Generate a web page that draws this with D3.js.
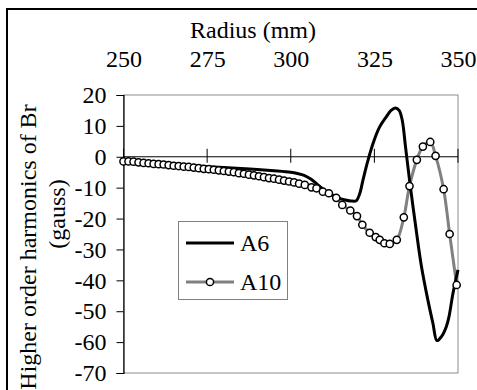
<!DOCTYPE html>
<html>
<head>
<meta charset="utf-8">
<script src="https://cdn.jsdelivr.net/npm/d3@7"></script>
<style>
  html, body { margin: 0; padding: 0; background: #fff; }
  svg { display: block; }
  text { font-family: "Liberation Serif", "Times New Roman", serif; fill: #000; }
</style>
</head>
<body>
<svg id="chart" width="477" height="390"></svg>
<script>
// ---- data ----
const xTicks = [250, 275, 300, 325, 350];
const yTicks = [20, 10, 0, -10, -20, -30, -40, -50, -60, -70];

const a6Radius = [250, 255, 260, 265, 270, 275, 280, 285, 290, 295, 300, 302, 304, 306, 308, 310, 312, 314, 316, 318, 319.6, 320.6, 321.6, 323, 324.5, 326.5, 328.6, 330, 331.3, 332.4, 333.3, 334.3, 335.5, 337.5, 339, 341, 342.5, 343.7, 345, 346.5, 347.3, 348.5, 350];
const a6Values = [-1.3, -1.7, -2.1, -2.5, -2.9, -3.2, -3.5, -3.8, -4.1, -4.5, -5.0, -5.4, -6.0, -7.2, -9.0, -10.8, -12.2, -13.2, -13.9, -14.3, -14.2, -12, -7.5, -1.5, 4, 9.5, 13, 15, 15.8, 15, 12, 3.3, -7.5, -23.7, -35, -46.4, -53.9, -59.5, -58.3, -55, -51.8, -44.2, -36.6];

const a10Radius = [250, 251.5, 253, 254.5, 256, 257.5, 259, 260.5, 262, 263.5, 265, 266.5, 268, 269.5, 271, 272.5, 274, 275.5, 277, 278.5, 280, 281.5, 283, 284.5, 286, 287.5, 289, 290.5, 292, 293.5, 295, 296.5, 298, 299.5, 301, 302.5, 304.2, 306.2, 307.7, 309.6, 311.4, 313.6, 315.4, 317.8, 319.8, 321.4, 323.6, 325.4, 326.6, 328, 329.6, 331.7, 333.8, 335.5, 337.7, 339.5, 341.7, 343.3, 345.7, 347.5, 349.6];
const a10Values = [-1.5, -1.5, -1.6, -1.8, -2.0, -2.1, -2.3, -2.4, -2.5, -2.7, -2.9, -3.0, -3.2, -3.3, -3.5, -3.7, -3.9, -4.0, -4.2, -4.4, -4.6, -4.8, -5.0, -5.3, -5.5, -5.8, -6.0, -6.3, -6.6, -6.9, -7.1, -7.4, -7.7, -8.0, -8.3, -8.7, -9.1, -9.9, -10.2, -11.3, -11.8, -13.3, -15.6, -17.4, -19.2, -22, -24.6, -26, -26.9, -28, -28.2, -26.9, -19.6, -9.5, -1, 3.3, 4.8, 0.3, -10.5, -25, -41.5];

const seriesNames = ["A6", "A10"];

// ---- layout ----
const svg = d3.select("#chart");
const FONT = 24;
const pL = 123.5, pR = 458, pT = 95, pB = 373;

const x = d3.scaleLinear().domain([250, 350]).range([pL, pR]);
const y = d3.scaleLinear().domain([-70, 20]).range([pB, pT]);

// outer border
svg.append("rect")
  .attr("x", 7).attr("y", 9).attr("width", 500).attr("height", 420)
  .attr("fill", "none").attr("stroke", "#000").attr("stroke-width", 2);

// plot frame (gray top/right/bottom)
svg.append("rect")
  .attr("x", pL).attr("y", pT).attr("width", pR - pL).attr("height", pB - pT)
  .attr("fill", "#fff").attr("stroke", "#8c8c8c").attr("stroke-width", 1);

// y axis
const yAxis = d3.axisLeft(y).tickValues(yTicks).tickSize(7).tickPadding(10).tickFormat(d3.format("d"));
const gy = svg.append("g").attr("transform", `translate(${pL},0)`).call(yAxis);
gy.select(".domain").attr("stroke", "#000").attr("stroke-width", 1.2);
gy.selectAll(".tick line").attr("stroke", "#000");
gy.selectAll(".tick text").style("font-family", "Liberation Serif").style("font-size", FONT + "px").attr("fill", "#000")
  .text(d => d < 0 ? "-" + Math.abs(d) : d);

// zero line with crossing ticks
const zeroY = y(0);
svg.append("line").attr("x1", pL).attr("x2", pR).attr("y1", zeroY).attr("y2", zeroY)
  .attr("stroke", "#000").attr("stroke-width", 1);
svg.append("g").selectAll("line").data(xTicks).join("line")
  .attr("x1", d => x(d)).attr("x2", d => x(d))
  .attr("y1", zeroY - 8).attr("y2", zeroY + 6)
  .attr("stroke", "#000").attr("stroke-width", 1);

// x tick labels on top via axisTop
const xAxis = d3.axisTop(x).tickValues(xTicks).tickSize(0).tickPadding(0).tickFormat(d3.format("d"));
const gx = svg.append("g").attr("transform", `translate(0,67)`).call(xAxis);
gx.select(".domain").remove();
gx.selectAll(".tick text").style("font-family", "Liberation Serif").style("font-size", FONT + "px")
  .attr("fill", "#000").attr("y", 0).attr("dy", 0);

// titles
svg.append("text").attr("x", 253).attr("y", 38).attr("text-anchor", "middle")
  .style("font-size", FONT + "px").text("Radius (mm)");
svg.append("text").attr("transform", "translate(36,247) rotate(-90)").attr("text-anchor", "middle")
  .style("font-size", FONT + "px").text("Higher order harmonics of Br");
svg.append("text").attr("transform", "translate(65,214) rotate(-90)").attr("text-anchor", "middle")
  .style("font-size", FONT + "px").text("(gauss)");

// series
const a6 = a6Radius.map((r, i) => [r, a6Values[i]]);
const a10 = a10Radius.map((r, i) => [r, a10Values[i]]);
const line = d3.line().x(d => x(d[0])).y(d => y(d[1])).curve(d3.curveCatmullRom.alpha(0.5));

svg.append("path").datum(a10).attr("d", line)
  .attr("fill", "none").attr("stroke", "#808080").attr("stroke-width", 3);
svg.append("path").datum(a6).attr("d", line)
  .attr("fill", "none").attr("stroke", "#000").attr("stroke-width", 3);
svg.append("g").selectAll("circle").data(a10).join("circle")
  .attr("cx", d => x(d[0])).attr("cy", d => y(d[1])).attr("r", 3.6)
  .attr("fill", "#fff").attr("stroke", "#000").attr("stroke-width", 1.5);

// legend
const lg = svg.append("g");
lg.append("rect").attr("x", 178.5).attr("y", 221.5).attr("width", 109).attr("height", 78)
  .attr("fill", "#fff").attr("stroke", "#808080").attr("stroke-width", 1);
const ly = [243, 282];
lg.append("line").attr("x1", 186).attr("x2", 234).attr("y1", ly[0]).attr("y2", ly[0])
  .attr("stroke", "#000").attr("stroke-width", 3);
lg.append("line").attr("x1", 186).attr("x2", 234).attr("y1", ly[1]).attr("y2", ly[1])
  .attr("stroke", "#808080").attr("stroke-width", 3);
lg.append("circle").attr("cx", 210).attr("cy", ly[1]).attr("r", 3.6)
  .attr("fill", "#fff").attr("stroke", "#000").attr("stroke-width", 1.5);
lg.selectAll("text.lt").data(seriesNames).join("text").attr("class", "lt")
  .attr("x", 240).attr("y", (d, i) => ly[i]).attr("dy", "0.33em")
  .style("font-size", FONT + "px").text(d => d);
</script>
</body>
</html>
